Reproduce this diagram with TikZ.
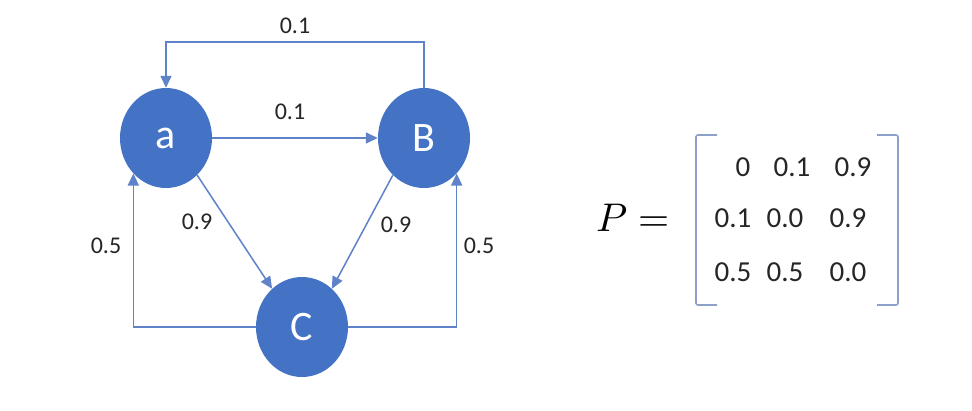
\documentclass[tikz,border=0pt]{standalone}
\usepackage{fontspec}
\usepackage{unicode-math}
\setmainfont{Carlito}
\setmathfont{Latin Modern Math}
\usetikzlibrary{shapes.geometric,arrows.meta}
\definecolor{nodeblue}{RGB}{68,114,196}
\definecolor{edgeblue}{RGB}{96,130,200}
\definecolor{labelgray}{RGB}{38,38,38}
\definecolor{brackcol}{RGB}{140,160,200}
\begin{document}
\begin{tikzpicture}[x=1pt,y=-1pt,
  state/.style={ellipse,fill=nodeblue,draw=none,minimum width=92pt,minimum height=100pt,inner sep=0pt,text=white,font=\fontsize{42}{50}\selectfont},
  edge/.style={draw=edgeblue,line width=1.5pt,-{Triangle[length=12pt,width=11pt]}},
  lab/.style={text=labelgray,font=\fontsize{24}{28}\selectfont,inner sep=0pt},
  entry/.style={text=labelgray,font=\fontsize{29}{34}\selectfont,inner sep=0pt},
  brack/.style={draw=brackcol,line width=1.6pt,rounded corners=2pt}]
\useasboundingbox[fill=white] (0,0) rectangle (972,410);
% states
\node[state] (a) at (166,138) {a};
\node[state] (B) at (424,138) {B};
\node[state] (C) at (302,327) {C};
% helper coordinates
\coordinate (top) at (295,42);
% connectors
\draw[edge] (a.east) -- (B.west);
\draw[edge] (B.north) |- (top) -| (a.north);
\draw[edge] (a.-50) -- (C.128);
\draw[edge] (B.-130) -- (C.52);
\draw[edge] (C.west) -| (a.south west);
\draw[edge] (C.east) -| (B.south east);
% labels
\node[lab] (l1) at (295,26) {0.1};
\node[lab] (l2) at (290,112) {0.1};
\node[lab] (l3) at (197,222) {0.9};
\node[lab] (l4) at (396,225) {0.9};
\node[lab] (l5) at (106,246) {0.5};
\node[lab] (l6) at (479,246) {0.5};
% matrix
\node[inner sep=0pt,anchor=west,font=\fontsize{40}{48}\selectfont] (eq) at (596,218) {$P=$};
\coordinate (lbt) at (717,135);
\coordinate (lbb) at (717,305);
\coordinate (rbt) at (877,135);
\coordinate (rbb) at (877,305);
\draw[brack] (lbt) -- (696,135) -- (696,305) -- (lbb);
\draw[brack] (rbt) -- (898,135) -- (898,305) -- (rbb);
\node[entry] (m11) at (743,167) {0};
\node[entry] (m12) at (792,167) {0.1};
\node[entry] (m13) at (853,167) {0.9};
\node[entry] (m21) at (733,218) {0.1};
\node[entry] (m22) at (785,218) {0.0};
\node[entry] (m23) at (848,218) {0.9};
\node[entry] (m31) at (733,272) {0.5};
\node[entry] (m32) at (785,272) {0.5};
\node[entry] (m33) at (848,272) {0.0};
\end{tikzpicture}
\end{document}
